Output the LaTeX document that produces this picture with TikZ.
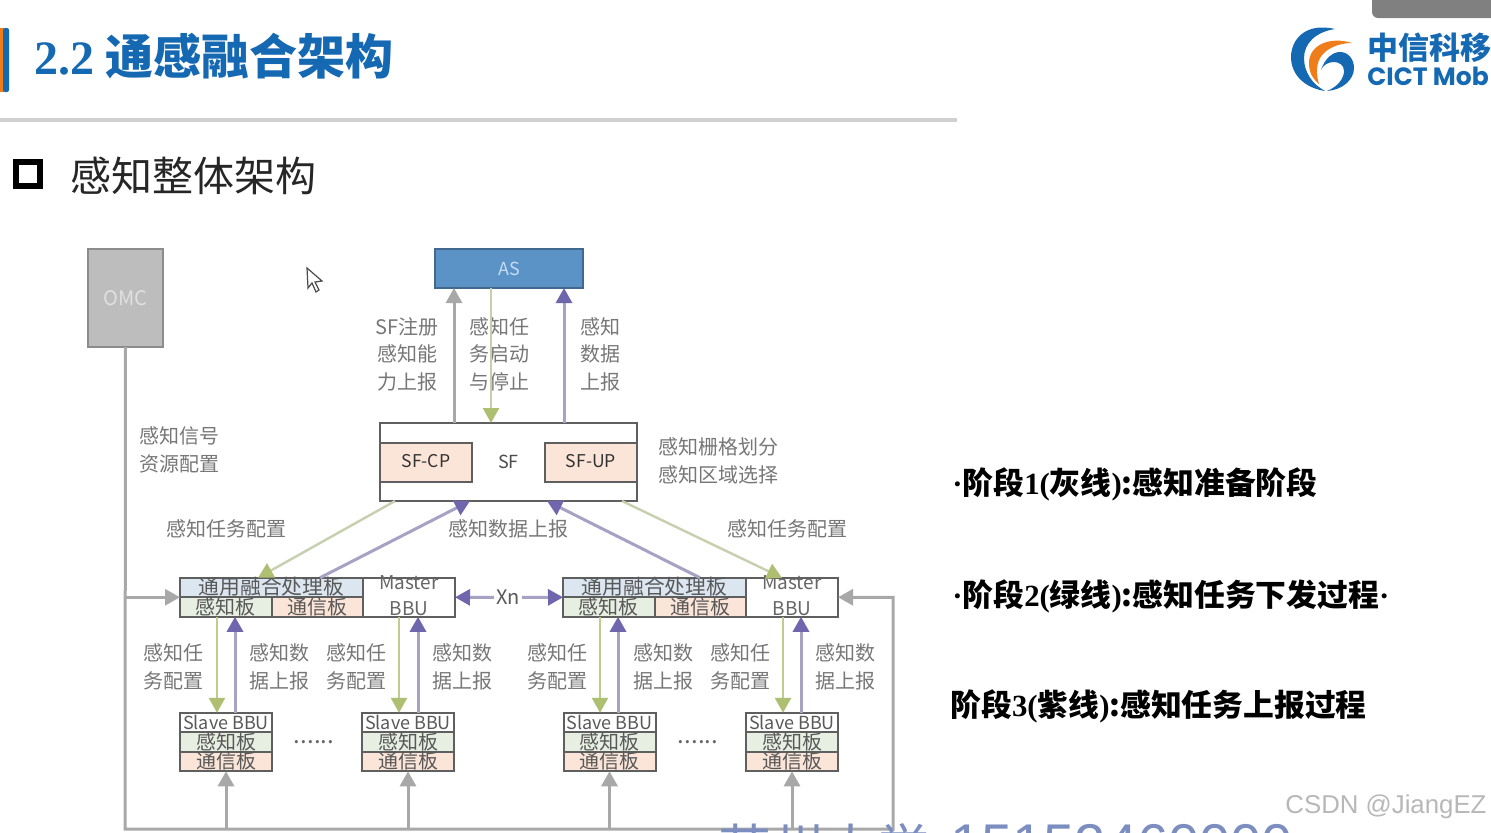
\documentclass[tikz,border=0pt]{standalone}
\usepackage{fontspec}
\setmainfont{Noto Sans CJK SC}
\newfontfamily\latinserif{Liberation Serif}
\newfontfamily\latinsans{Liberation Sans}
\newfontfamily\logosans{Poppins}
\usepackage{tikz}
\usetikzlibrary{arrows.meta,positioning}
\usepackage{xcolor}
\definecolor{linegray}{HTML}{A8A8A8}
\definecolor{edgegray}{HTML}{5F5F5F}
\definecolor{labelgray}{HTML}{777777}
\definecolor{leafgreen}{HTML}{AEBF72}
\definecolor{palegreen}{HTML}{C6D0AE}
\definecolor{headpurple}{HTML}{6F66AE}
\definecolor{shaftpurple}{HTML}{A5A2C4}
\definecolor{titleblue}{HTML}{1568B2}
\definecolor{logoorange}{HTML}{EE7D1A}
\definecolor{asblue}{HTML}{5B93C7}
\definecolor{asedge}{HTML}{41698F}
\definecolor{asname}{HTML}{C3DCF2}
\definecolor{commonfill}{HTML}{DCE6F1}
\definecolor{sensefill}{HTML}{E7EEE2}
\definecolor{commfill}{HTML}{FBE5D8}
\definecolor{markblue}{HTML}{7C8DBF}

\begin{document}
\begin{tikzpicture}[
  x=0.5pt, y=-0.5pt,
  board/.style={draw=edgegray, line width=1pt, inner sep=0pt, outer sep=0pt, align=center,
    minimum height=9.75pt, text height=8.5pt, text depth=1.25pt, text=black!65,
    font=\fontsize{10}{12}\selectfont},
  commonbox/.style={board, fill=commonfill, minimum width=91.5pt, font=\fontsize{10.4}{12}\selectfont},
  sensebox/.style={board, fill=sensefill, minimum width=45.75pt},
  commbox/.style={board, fill=commfill, minimum width=45.75pt},
  headbox/.style={board, fill=white, minimum width=46pt, font=\fontsize{9}{12}\selectfont},
  slavesense/.style={board, fill=sensefill, minimum width=46pt},
  slavecomm/.style={board, fill=commfill, minimum width=46pt},
  masterbox/.style={board, fill=white, minimum width=46pt, minimum height=19.5pt},
  boxtext/.style={align=center, text=black!60, inner sep=0pt, font=\fontsize{9.5}{13}\selectfont},
  sfbox/.style={board, fill=commfill, text=black!80, minimum width=46pt, minimum height=19.5pt,
    text height=7pt, text depth=1.5pt, font=\fontsize{8.8}{12}\selectfont},
  lbl/.style={align=center, text=labelgray, inner sep=0pt, font=\fontsize{10}{13.7}\selectfont},
  stage/.style={anchor=west, inner sep=0pt, text=black, font=\fontsize{15.4}{18}\selectfont\bfseries},
  grayarrow/.style={draw=linegray, line width=1.5pt, -{Triangle[length=7.5pt,width=8pt]}},
  greenarrow/.style={draw=leafgreen!80!white, line width=1.3pt, -{Triangle[length=7.5pt,width=8pt,color=leafgreen]}},
  palearrow/.style={draw=palegreen, line width=1.2pt, -{Triangle[length=7.5pt,width=8pt,color=leafgreen]}},
  purplearrow/.style={draw=shaftpurple, line width=1.5pt, -{Triangle[length=7.5pt,width=8pt,color=headpurple]}}]
\clip (0,0) rectangle (1491,832);
\fill[white] (0,0) rectangle (1491,832);
% header
\fill[logoorange] (0,28) rectangle (4,92);
\fill[titleblue, rounded corners=1pt] (3,28) rectangle (9,92);
\node[anchor=west, inner sep=0pt, text=titleblue, font=\fontsize{24}{28}\selectfont\bfseries] (title) at (34,56)
  {{\latinserif 2.2}\hspace{5.5pt}通感融合架构};
\fill[black!18] (0,118) rectangle (957,122);
\node[draw=black, line width=3pt, minimum size=12pt, inner sep=0pt] (bullet) at (27.5,174) {};
\node[anchor=west, inner sep=0pt, text=black!85, font=\fontsize{20.5}{24}\selectfont] (head) at (70,176) {感知整体架构};
\fill[black!50, rounded corners=3pt] (1372,-12) rectangle (1505,18);
% logo
\fill[titleblue] (1335,29) .. controls (1305,22) and (1291,40) .. (1291,57) .. controls (1291,75) and (1305,88) .. (1325,91)
  .. controls (1312,84) and (1304,72) .. (1304,58) .. controls (1304,44) and (1315,32) .. (1335,29);
\fill[logoorange] (1352,43) .. controls (1330,36) and (1309,45) .. (1309,63) .. controls (1309,72) and (1312,78) .. (1319,84)
  .. controls (1316,74) and (1316,66) .. (1320,58) .. controls (1325,49) and (1338,43) .. (1352,43);
\fill[titleblue] (1321,70) .. controls (1325,58) and (1333,52) .. (1340,52) .. controls (1349,52) and (1354,60) .. (1354,68)
  .. controls (1354,80) and (1342,90) .. (1327,91) .. controls (1337,87) and (1344,79) .. (1344,71)
  .. controls (1344,65) and (1339,62) .. (1334,62) .. controls (1328,62) and (1323,65) .. (1321,70);
\node[anchor=west, inner sep=0pt, text=titleblue, font=\fontsize{15.5}{18}\selectfont\bfseries] (logocn) at (1367,48) {中信科移};
\node[anchor=west, inner sep=0pt, text=titleblue, font=\fontsize{12.5}{15}\selectfont\logosans\bfseries] (logoen) at (1367,76) {CICT Mob};
% cursor
\filldraw[fill=white, draw=black!70, line width=0.6pt] (307,268) -- (308,288) -- (312,283) -- (316,292) -- (319,290) -- (315,282) -- (322,281) -- cycle;
% top nodes
\node[draw=black!45, fill=black!26, line width=1.2pt, minimum width=37.5pt, minimum height=49pt, inner sep=0pt, outer sep=0pt,
  text=black!12, font=\fontsize{10}{12}\selectfont] (omc) at (125.5,298) {OMC};
\node[draw=asedge, fill=asblue, line width=1.2pt, minimum width=74pt, minimum height=19.5pt, inner sep=0pt, outer sep=0pt,
  text=asname, font=\fontsize{9}{12}\selectfont] (as) at (509,268.5) {AS};
\node[draw=edgegray, line width=1.2pt, minimum width=128.5pt, minimum height=39pt, inner sep=0pt, outer sep=0pt,
  text=black!70, font=\fontsize{9}{12}\selectfont] (sf) at (508.5,462) {SF};
\node[sfbox, right=0pt of sf.west] (sfcp) {SF-CP};
\node[sfbox, left=0pt of sf.east] (sfup) {SF-UP};
% left master BBU
\node[commonbox] (common1) at (271.5,587.5) {通用融合处理板};
\node[sensebox, below right=0pt and 0pt of common1.south west] (sense1) {感知板};
\node[commbox, right=0pt of sense1] (comm1) {通信板};
\node[masterbox, below right=0pt and 0pt of common1.north east] (master1) {};
\node[boxtext] (master1t) at (409,596) {Master\\BBU};
% right master BBU
\node[commonbox] (common2) at (654.5,587.5) {通用融合处理板};
\node[sensebox, below right=0pt and 0pt of common2.south west] (sense2) {感知板};
\node[commbox, right=0pt of sense2] (comm2) {通信板};
\node[masterbox, below right=0pt and 0pt of common2.north east] (master2) {};
\node[boxtext] (master2t) at (792,596) {Master\\BBU};
\node[fill=white, inner sep=1pt, text=black!65, font=\fontsize{10}{12}\selectfont] (xn) at (508,597.5) {Xn};
% slave BBUs
\node[headbox] (slave1) at (226,722.5) {Slave BBU};
\node[slavesense, below=0pt of slave1] (slave1a) {感知板};
\node[slavecomm, below=0pt of slave1a] (slave1b) {通信板};
\node[headbox] (slave2) at (408,722.5) {Slave BBU};
\node[slavesense, below=0pt of slave2] (slave2a) {感知板};
\node[slavecomm, below=0pt of slave2a] (slave2b) {通信板};
\node[headbox] (slave3) at (609.5,722.5) {Slave BBU};
\node[slavesense, below=0pt of slave3] (slave3a) {感知板};
\node[slavecomm, below=0pt of slave3a] (slave3b) {通信板};
\node[headbox] (slave4) at (792,722.5) {Slave BBU};
\node[slavesense, below=0pt of slave4] (slave4a) {感知板};
\node[slavecomm, below=0pt of slave4a] (slave4b) {通信板};
\node[text=black!60, inner sep=0pt, font=\fontsize{12}{12}\selectfont] (dots1) at (314,742) {......};
\node[text=black!60, inner sep=0pt, font=\fontsize{12}{12}\selectfont] (dots2) at (698,742) {......};
% labels
\node[lbl] (lregister) at (407,354) {SF注册\\感知能\\力上报};
\node[lbl] (lstart) at (499,354) {感知任\\务启动\\与停止};
\node[lbl] (lreport) at (600,354) {感知\\数据\\上报};
\node[lbl] (lsignal) at (179,450) {感知信号\\资源配置};
\node[lbl] (lgrid) at (718,461) {感知栅格划分\\感知区域选择};
\node[lbl] (ltask1) at (226,529) {感知任务配置};
\node[lbl] (ldata) at (508,529) {感知数据上报};
\node[lbl] (ltask2) at (787,529) {感知任务配置};
\node[lbl] (lt1) at (173,667) {感知任\\务配置};
\node[lbl] (ld1) at (279,667) {感知数\\据上报};
\node[lbl] (lt2) at (356,667) {感知任\\务配置};
\node[lbl] (ld2) at (462,667) {感知数\\据上报};
\node[lbl] (lt3) at (557,667) {感知任\\务配置};
\node[lbl] (ld3) at (663,667) {感知数\\据上报};
\node[lbl] (lt4) at (740,667) {感知任\\务配置};
\node[lbl] (ld4) at (845,667) {感知数\\据上报};
% connectors
\coordinate (busl) at (125,829);
\coordinate (busr) at (893,829);
\draw[grayarrow] (omc.south) -- (busl) -- (busr) |- (master2.east);
\draw[grayarrow] (common1.south west -| omc.south) -- (common1.south west);
\draw[grayarrow] (slave1b.south |- busl) -- (slave1b.south);
\draw[grayarrow] (slave2b.south |- busl) -- (slave2b.south);
\draw[grayarrow] (slave3b.south |- busl) -- (slave3b.south);
\draw[grayarrow] (slave4b.south |- busl) -- (slave4b.south);
\draw[grayarrow] ([shift={(-54.5,0)}]sf.north) -- ([shift={(-55,0)}]as.south);
\draw[palearrow] ([shift={(-18,0)}]as.south) -- ([shift={(-17.5,0)}]sf.north);
\draw[purplearrow] ([shift={(55.5,0)}]sf.north) -- ([shift={(55,0)}]as.south);
\draw[palearrow] ([shift={(-113.5,0)}]sf.south) -- ([shift={(-13.5,0)}]common1.north);
\draw[purplearrow] ([shift={(48.5,0)}]common1.north) -- ([shift={(-38.5,0)}]sf.south);
\draw[purplearrow] ([shift={(45.5,0)}]common2.north) -- ([shift={(38.5,0)}]sf.south);
\draw[palearrow] ([shift={(113.5,0)}]sf.south) -- ([shift={(-10,0)}]master2.north);
\draw[purplearrow] (xn) -- (master1.east);
\draw[purplearrow] (xn) -- (common2.south west);
\draw[greenarrow] ([shift={(-8.75,0)}]sense1.south) -- ([shift={(-9,0)}]slave1.north);
\draw[purplearrow] ([shift={(9,0)}]slave1.north) -- ([shift={(9.25,0)}]sense1.south);
\draw[greenarrow] ([shift={(-10,0)}]master1.south) -- ([shift={(-9,0)}]slave2.north);
\draw[purplearrow] ([shift={(10,0)}]slave2.north) -- ([shift={(9,0)}]master1.south);
\draw[greenarrow] ([shift={(-8.75,0)}]sense2.south) -- ([shift={(-9.5,0)}]slave3.north);
\draw[purplearrow] ([shift={(8.5,0)}]slave3.north) -- ([shift={(9.25,0)}]sense2.south);
\draw[greenarrow] ([shift={(-9,0)}]master2.south) -- ([shift={(-9,0)}]slave4.north);
\draw[purplearrow] ([shift={(9,0)}]slave4.north) -- ([shift={(9,0)}]master2.south);
% stages
\node[stage] (stage1) at (952,484) {{\latinserif ·}阶段{\latinserif 1(}灰线{\latinserif )}:感知准备阶段};
\node[stage] (stage2) at (952,596) {{\latinserif ·}阶段{\latinserif 2(}绿线{\latinserif )}:感知任务下发过程{\latinserif ·}};
\node[stage] (stage3) at (950,706) {阶段{\latinserif 3(}紫线{\latinserif )}:感知任务上报过程};
% watermarks
\node[anchor=west, inner sep=0pt, text=black!28, font=\fontsize{12.9}{16}\selectfont\latinsans] (csdn) at (1285,807) {CSDN @JiangEZ};
\node[anchor=west, inner sep=0pt, text=markblue, font=\fontsize{26.5}{30}\selectfont] (mark) at (718,848) {苏州大学\hspace{10pt}\raisebox{2.5pt}{\fontsize{28}{30}\selectfont\latinsans 15152460000}};
\end{tikzpicture}
\end{document}
